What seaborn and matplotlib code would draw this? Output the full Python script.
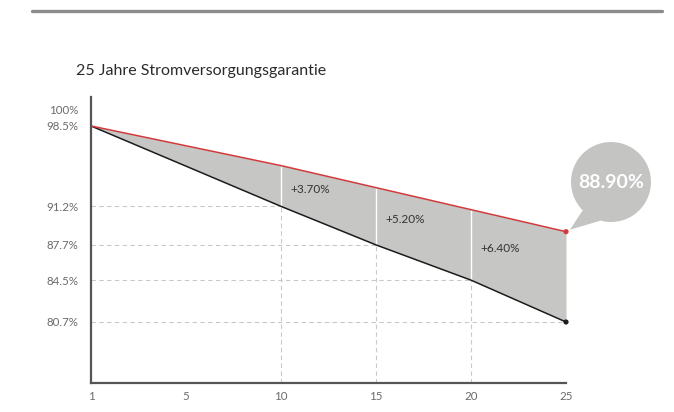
import matplotlib
matplotlib.use("Agg")
import matplotlib.pyplot as plt
from matplotlib.lines import Line2D
from matplotlib.patches import Circle, Polygon
import numpy as np
import pandas as pd
import seaborn as sns

title = "25 Jahre Stromversorgungsgarantie"
# years elapsed since the first year (the first year is labelled "1")
years = [0, 10, 15, 20, 25]
tick_years = [0, 5, 10, 15, 20, 25]
tick_year_labels = ["1", "5", "10", "15", "20", "25"]
standard = [98.5, 91.2, 87.7, 84.5, 80.7]
guaranteed = [98.5, 94.9, 92.9, 90.9, 88.9]
y_ticks = [100, 98.5, 91.2, 87.7, 84.5, 80.7]
y_tick_labels = ["100%", "98.5%", "91.2%", "87.7%", "84.5%", "80.7%"]

sns.set_theme(style="white")
plt.rcParams["font.family"] = ["Lato", "DejaVu Sans"]

W, H = 674, 412
fig = plt.figure(figsize=(W / 100, H / 100), dpi=100)
fig.patch.set_facecolor("white")

# header rule and title
fig.add_artist(Line2D([32 / W, 662 / W], [1 - 11 / H] * 2, lw=2.4, color="#8c8c8c"))
fig.text(76 / W, 1 - 71 / H, title, fontsize=11.5, color="#2b2b2b", va="center", ha="left")

ax = fig.add_axes([91 / W, 1 - 383 / H, (566 - 91) / W, (383 - 97) / H])
ymin, ymax = 75.16, 101.13
ax.set_xlim(0, 25)
ax.set_ylim(ymin, ymax)

df = pd.DataFrame({
    "year": years * 2,
    "value": standard + guaranteed,
    "series": ["standard"] * len(years) + ["guaranteed"] * len(years),
})

ax.fill_between(years, standard, guaranteed, color="#c6c7c5", lw=0, zorder=1)

grid_kw = dict(color="#c9c9c9", lw=0.8, linestyles=(0, (4, 3)), zorder=0.5)
for x, s, g in zip(years[1:], standard[1:], guaranteed[1:]):
    ax.vlines(x, ymin, s, **grid_kw)
    ax.hlines(s, 0, x, **grid_kw)
    if x < years[-1]:
        ax.vlines(x, s, g, color="white", lw=1.0, zorder=2)
        lx = x + 0.5
        mid = (np.interp(lx, years, standard) + np.interp(lx, years, guaranteed)) / 2
        ax.text(lx, mid, f"+{g - s:.2f}%", fontsize=8.5, color="#333333",
                ha="left", va="center", zorder=4)

sns.lineplot(data=df, x="year", y="value", hue="series",
             palette={"standard": "#1c1c1c", "guaranteed": "#d2393b"},
             lw=1.1, legend=False, ax=ax, zorder=3)
sns.scatterplot(x=[years[-1], years[-1]], y=[standard[-1], guaranteed[-1]],
                hue=["standard", "guaranteed"],
                palette={"standard": "#1c1c1c", "guaranteed": "#d2393b"},
                s=14, edgecolor="none", legend=False, ax=ax, zorder=4, clip_on=False)

ax.set_xlabel("")
ax.set_ylabel("")
ax.set_xticks(tick_years)
ax.set_xticklabels(tick_year_labels)
ax.set_yticks(y_ticks)
ax.set_yticklabels(y_tick_labels)
ax.tick_params(axis="both", length=0, labelsize=8.3, labelcolor="#6a6a6a")
ax.tick_params(axis="x", pad=6)
ax.tick_params(axis="y", pad=9)
for side in ("top", "right"):
    ax.spines[side].set_visible(False)
for side in ("left", "bottom"):
    ax.spines[side].set_color("#555555")
    ax.spines[side].set_linewidth(1.6)
ax.patch.set_alpha(0)

# speech bubble pointing at the guaranteed end value
ov = fig.add_axes([0, 0, 1, 1], zorder=5)
ov.set_xlim(0, W)
ov.set_ylim(0, H)
ov.axis("off")
fig.canvas.draw()
tip = ax.transData.transform((years[-1], guaranteed[-1]))
cx, cy, r = 611, H - 182, 40
a1, a2 = np.deg2rad(-135), np.deg2rad(-105)
tail = [(cx + r * np.cos(a1), cy + r * np.sin(a1)),
        (cx + r * np.cos(a2), cy + r * np.sin(a2)),
        (tip[0] + 4, tip[1] + 2)]
bubble_color = "#c4c5c3"
ov.add_patch(Polygon(tail, closed=True, color=bubble_color, lw=0))
ov.add_patch(Circle((cx, cy), r, color=bubble_color, lw=0))
ov.text(cx, cy, f"{guaranteed[-1]:.2f}%", fontsize=14, fontweight="bold",
        color="white", ha="center", va="center")

fig.savefig("out.png", dpi=100, facecolor="white")
